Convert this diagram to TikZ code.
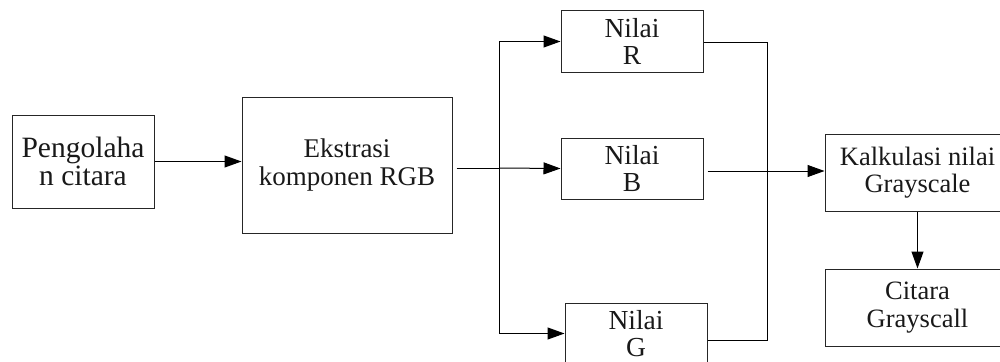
\documentclass[tikz,border=0pt]{standalone}
\usepackage{fontspec}
\setmainfont{Liberation Serif}
\usetikzlibrary{arrows.meta}
\tikzset{
  box/.style={draw=black!85, line width=1pt, inner sep=0pt, align=center, text=black!90,
    font=\fontsize{26.5}{27.5}\selectfont},
  arr/.style={line width=1pt, -{Triangle[length=17pt,width=12pt]}},
  ln/.style={line width=1pt}
}
\begin{document}
\begin{tikzpicture}[x=1pt,y=-1pt]
\useasboundingbox (0,0) rectangle (1000,361);
\clip (0,0) rectangle (1000,361);
\fill[white] (0,0) rectangle (1000,361);
\node[box, minimum width=142pt, minimum height=93pt, font=\fontsize{29.5}{28}\selectfont] (p) at (83,161.5) {Pengolaha\\n citara};
\node[box, minimum width=210pt, minimum height=136pt, font=\fontsize{27}{28}\selectfont] (e) at (347,165) {Ekstrasi\\komponen RGB};
\node[box, minimum width=142pt, minimum height=61pt, font=\fontsize{27.5}{27}\selectfont] (r) at (632,41.5) {Nilai\\R};
\node[box, minimum width=142pt, minimum height=61pt, font=\fontsize{27.5}{27}\selectfont] (b) at (632,168.5) {Nilai\\B};
\node[box, minimum width=142pt, minimum height=61pt, font=\fontsize{27.5}{27}\selectfont] (g) at (636,333.5) {Nilai\\G};
\node[box, minimum width=185pt, minimum height=77pt] (kal) at (917.5,172.5) {Kalkulasi nilai\\Grayscale};
\node[box, minimum width=185pt, minimum height=77pt] (cit) at (917.5,307.5) {Citara\\Grayscall};
\coordinate (j) at (499,168);
\coordinate (k) at (767,171);
\draw[arr] (p.east) -- (p.east -| e.west);
\draw[ln] ([xshift=4pt]e.east |- j) -- (j);
\draw[arr] (j) -- (b.west);
\draw[arr] (j) |- (r.west);
\draw[arr] (j) |- (g.west);
\draw[ln] ([yshift=-1.5pt]r.east) -| (k);
\draw[ln] ([yshift=-6.5pt]g.east) -| (k);
\draw[arr] ([xshift=4pt,yshift=-2.5pt]b.east) -- ([yshift=-2.5pt]b.east -| kal.west);
\draw[arr] (kal.south) -- (cit.north);
\end{tikzpicture}
\end{document}
